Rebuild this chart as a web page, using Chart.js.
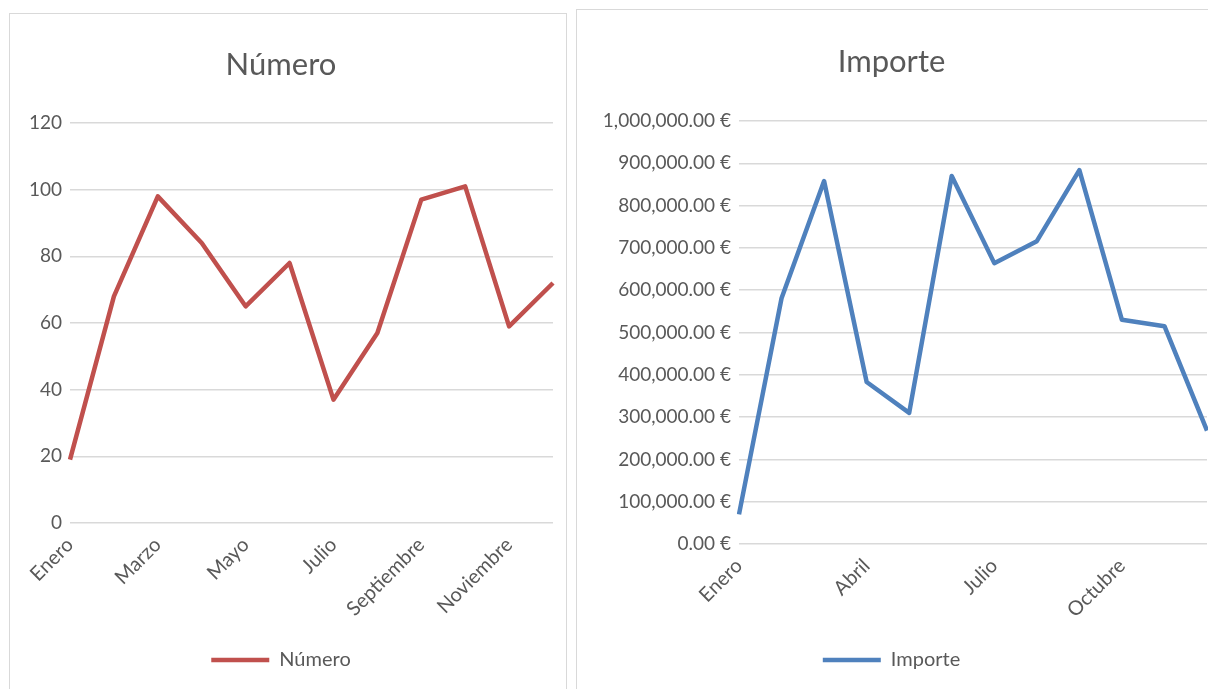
<!DOCTYPE html>
<html>
<head>
<meta charset="utf-8">
<script src="https://cdn.jsdelivr.net/npm/chart.js@4/dist/chart.umd.min.js"></script>
<style>
  html, body { margin: 0; padding: 0; background: #ffffff; width: 1208px; height: 689px; overflow: hidden; }
  .panel { position: absolute; border: 1.5px solid #d9d9d9; box-sizing: border-box; background: #fff; }
  canvas { position: absolute; }
</style>
</head>
<body>
<div class="panel" style="left:9px; top:13px; width:558px; height:700px;"></div>
<div class="panel" style="left:576px; top:9px; width:650px; height:700px;"></div>
<canvas id="c1" width="557" height="676" style="left:9px; top:13px;"></canvas>
<canvas id="c2" width="640" height="680" style="left:576px; top:9px;"></canvas>
<script>
const months = ['Enero','Febrero','Marzo','Abril','Mayo','Junio','Julio','Agosto','Septiembre','Octubre','Noviembre','Diciembre'];
const numeroValues = [19, 68, 98, 84, 65, 78, 37, 57, 97, 101, 59, 72];
const importeValues = [70000, 581000, 858000, 383000, 310000, 870000, 664000, 716000, 884000, 530000, 515000, 268000];
const numeroTicks = [0, 20, 40, 60, 80, 100, 120];
const importeTicks = [0, 100000, 200000, 300000, 400000, 500000, 600000, 700000, 800000, 900000, 1000000];

const FONT = 'Lato, Carlito, "DejaVu Sans", sans-serif';
const TEXT = '#595959';
const GRID = '#d9d9d9';

function makeChart(id, opts) {
  return new Chart(document.getElementById(id), {
    type: 'line',
    data: {
      labels: months,
      datasets: [{
        label: opts.label,
        data: opts.values,
        borderColor: opts.color,
        backgroundColor: opts.color,
        borderWidth: 4.5,
        pointRadius: 0,
        pointHoverRadius: 0,
        tension: 0,
        borderJoinStyle: 'round',
        fill: false
      }]
    },
    options: {
      responsive: false,
      animation: false,
      layout: { padding: { left: 0, right: opts.padRight, top: 0, bottom: 9 } },
      plugins: {
        title: {
          display: true,
          text: opts.label,
          color: TEXT,
          font: { family: FONT, size: 31, weight: 'normal', lineHeight: 1.2 },
          padding: { top: opts.titleTop, bottom: opts.titleBottom }
        },
        legend: {
          display: true,
          position: 'bottom',
          labels: {
            color: TEXT,
            font: { family: FONT, size: 20 },
            usePointStyle: true,
            pointStyle: 'line',
            boxWidth: 58,
            pointStyleWidth: 58,
            padding: 10
          }
        },
        tooltip: { enabled: false }
      },
      scales: {
        x: {
          grid: { display: false },
          border: { display: false },
          offset: false,
          ticks: {
            color: TEXT,
            font: { family: FONT, size: 20 },
            autoSkip: false,
            maxRotation: 45,
            minRotation: 45,
            padding: 2,
            callback: function(v, i) { return (i % opts.every === 0) ? months[i] : ''; }
          },
          afterFit: function(s) { s.height = opts.xHeight; s.paddingRight = 0; s.paddingLeft = 0; }
        },
        y: {
          min: opts.ticks[0],
          max: opts.ticks[opts.ticks.length - 1],
          afterBuildTicks: function(s) { s.ticks = opts.ticks.map(v => ({ value: v })); },
          grid: { color: GRID, lineWidth: 1.5, drawTicks: false },
          border: { display: false },
          ticks: {
            color: TEXT,
            font: { family: FONT, size: 19 },
            padding: 8,
            callback: opts.fmt
          },
          afterFit: function(s) { s.width = opts.yWidth; }
        }
      }
    }
  });
}

makeChart('c1', {
  label: 'Número', values: numeroValues, color: '#C0504D', ticks: numeroTicks,
  every: 2, padRight: 13, titleTop: 33.4, titleBottom: 39.4, xHeight: 117, yWidth: 61,
  fmt: v => String(v)
});

makeChart('c2', {
  label: 'Importe', values: importeValues, color: '#4F81BD', ticks: importeTicks,
  every: 3, padRight: 9, titleTop: 34.4, titleBottom: 40.4, xHeight: 96, yWidth: 163,
  fmt: v => v.toLocaleString('en-US', { minimumFractionDigits: 2, maximumFractionDigits: 2 }) + ' €'
});
</script>
</body>
</html>
